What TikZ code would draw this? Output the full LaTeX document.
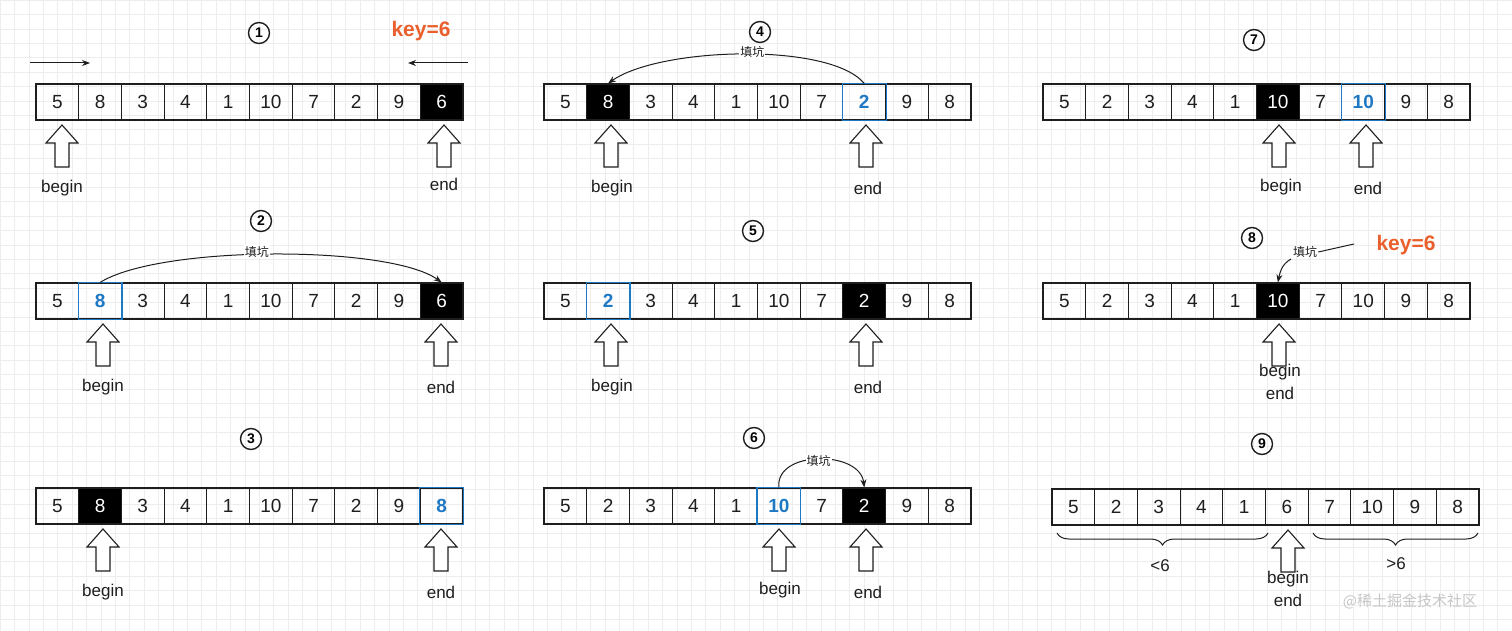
\documentclass[tikz,border=0pt]{standalone}
\usepackage{fontspec}
\setmainfont{Liberation Sans}
\newfontfamily\cjk{Noto Sans CJK SC}
\usetikzlibrary{arrows.meta,decorations.pathreplacing}
\definecolor{blu}{RGB}{30,120,195}
\definecolor{org}{RGB}{235,95,45}
\definecolor{ink}{RGB}{30,30,30}
\tikzset{
 cell/.style={draw=ink,line width=1.1pt,minimum width=42.7pt,minimum height=36pt,inner sep=0pt,font=\fontsize{19}{20}\selectfont,text=ink},
 blk/.style={cell,fill=black,text=white},
 blc/.style={cell,text=blu,font=\fontsize{19}{20}\selectfont\bfseries},
 lab/.style={font=\fontsize{17}{18}\selectfont,text=ink,inner sep=0pt},
 num/.style={circle,draw=ink,line width=1.4pt,minimum size=21pt,inner sep=0pt,font=\fontsize{14}{15}\selectfont\bfseries},
 keyst/.style={font=\fontsize{21}{22}\selectfont\bfseries,text=org},
 fk/.style={font=\cjk\fontsize{12}{13}\selectfont,fill=white,inner sep=1pt,text=ink},
 con/.style={draw=ink,line width=1pt,-{Stealth[length=8pt,width=6pt]}},
 pics/hol/.style={code={\draw[ink,line width=1.1pt,fill=white] (0,0) -- (16,18) -- (7,18) -- (7,42) -- (-7,42) -- (-7,18) -- (-16,18) -- cycle;}}
}
\newcommand\qrow[6]{%
 \foreach \v [count=\i] in {#4}{%
  \ifnum\i=#5 \def\st{blk}\else\ifnum\i=#6 \def\st{blc}\else\def\st{cell}\fi\fi
  \node[\st] (#1-\i) at ({#2+21.35+42.7*(\i-1)},#3) {\v};}%
 \ifnum#6>0 \draw[blu,line width=1.1pt] (#1-#6.south west) rectangle (#1-#6.north east);\fi}
\begin{document}
\begin{tikzpicture}[x=1pt,y=-1pt]
\useasboundingbox (0,0) rectangle (1512,631);
\draw[gray!14,line width=0.5pt,step=14.4pt] (0,0) grid (1512,631);
% panel 1
\node[num] (n1) at (259,33) {1};
\node[keyst] (k1) at (421,31) {key=6};
\coordinate (l1a) at (30,63); \coordinate (l1b) at (90,63);
\coordinate (r1a) at (468,63); \coordinate (r1b) at (408,63);
\draw[con] (l1a) -- (l1b); \draw[con] (r1a) -- (r1b);
\qrow{a}{36}{102}{5,8,3,4,1,10,7,2,9,6}{10}{0}
\pic at (62,125) {hol}; \node[lab] (ab) at (62,188) {begin};
\pic at (444,125) {hol}; \node[lab] (ae) at (444,184) {end};
% panel 2
\node[num] (n2) at (261,221) {2};
\qrow{b}{36}{301}{5,8,3,4,1,10,7,2,9,6}{10}{2}
\draw[con] (b-2.north) .. controls (160,245) and (390,245) .. node[fk,pos=0.46,yshift=3] (t2) {填坑} (b-10.north);
\pic at (103,324) {hol}; \node[lab] (bb) at (103,387) {begin};
\pic at (441,324) {hol}; \node[lab] (be) at (441,387) {end};
% panel 3
\node[num] (n3) at (251,439) {3};
\qrow{c}{36}{506}{5,8,3,4,1,10,7,2,9,8}{2}{10}
\pic at (103,529) {hol}; \node[lab] (cb) at (103,592) {begin};
\pic at (441,529) {hol}; \node[lab] (ce) at (441,592) {end};
% panel 4
\node[num] (n4) at (760,32) {4};
\qrow{d}{544}{102}{5,8,3,4,1,10,7,2,9,8}{2}{8}
\draw[con] (d-8.north) .. controls (830,42) and (660,47) .. node[fk,pos=0.47,yshift=2] (t4) {填坑} (d-2.north);
\pic at (611,125) {hol}; \node[lab] (db) at (612,188) {begin};
\pic at (866,125) {hol}; \node[lab] (de) at (868,188) {end};
% panel 5
\node[num] (n5) at (753,231) {5};
\qrow{e}{544}{301}{5,2,3,4,1,10,7,2,9,8}{8}{2}
\pic at (611,324) {hol}; \node[lab] (eb) at (612,387) {begin};
\pic at (866,324) {hol}; \node[lab] (ee) at (868,387) {end};
% panel 6
\node[num] (n6) at (754,438) {6};
\qrow{f}{544}{506}{5,2,3,4,1,10,7,2,9,8}{8}{6}
\draw[con] (f-6.north) .. controls (775,450) and (860,450) .. node[fk,pos=0.5,yshift=-2] (t6) {填坑} (f-8.north);
\pic at (779,529) {hol}; \node[lab] (fb) at (780,590) {begin};
\pic at (866,529) {hol}; \node[lab] (fe) at (868,592) {end};
% panel 7
\node[num] (n7) at (1254,40) {7};
\qrow{g}{1043}{102}{5,2,3,4,1,10,7,10,9,8}{6}{8}
\pic at (1279,125) {hol}; \node[lab] (gb) at (1281,187) {begin};
\pic at (1366,125) {hol}; \node[lab] (ge) at (1368,188) {end};
% panel 8
\node[num] (n8) at (1252,238) {8};
\node[keyst] (k8) at (1406,245) {key=6};
\qrow{h}{1043}{301}{5,2,3,4,1,10,7,10,9,8}{6}{0}
\node[fk,fill=none] (t8) at (1305,252) {填坑};
\coordinate (k8s) at (1354,244);
\draw[ink,line width=1pt] (k8s) -- (t8.east);
\draw[con] (1291,259) .. controls (1282,264) and (1280,272) .. (h-6.north);
\pic at (1279,324) {hol};
\node[lab] (hb) at (1280,372) {begin}; \node[lab] (he) at (1280,393) {end};
% panel 9
\node[num] (n9) at (1262,444) {9};
\qrow{i}{1052}{507}{5,2,3,4,1,6,7,10,9,8}{0}{0}
\draw[ink,line width=1pt,decorate,decoration={brace,mirror,amplitude=12pt}] (1057,533) -- (1268,533);
\draw[ink,line width=1pt,decorate,decoration={brace,mirror,amplitude=12pt}] (1313,533) -- (1478,533);
\node[lab] (lt) at (1160,566) {<6};
\node[lab] (gt) at (1396,564) {>6};
\pic at (1288,530) {hol};
\node[lab] (ib) at (1288,579) {begin}; \node[lab] (ie) at (1288,600) {end};
\node[font=\cjk\fontsize{15}{16}\selectfont,text=gray!45] (wm) at (1410,601) {@稀土掘金技术社区};
\end{tikzpicture}
\end{document}
